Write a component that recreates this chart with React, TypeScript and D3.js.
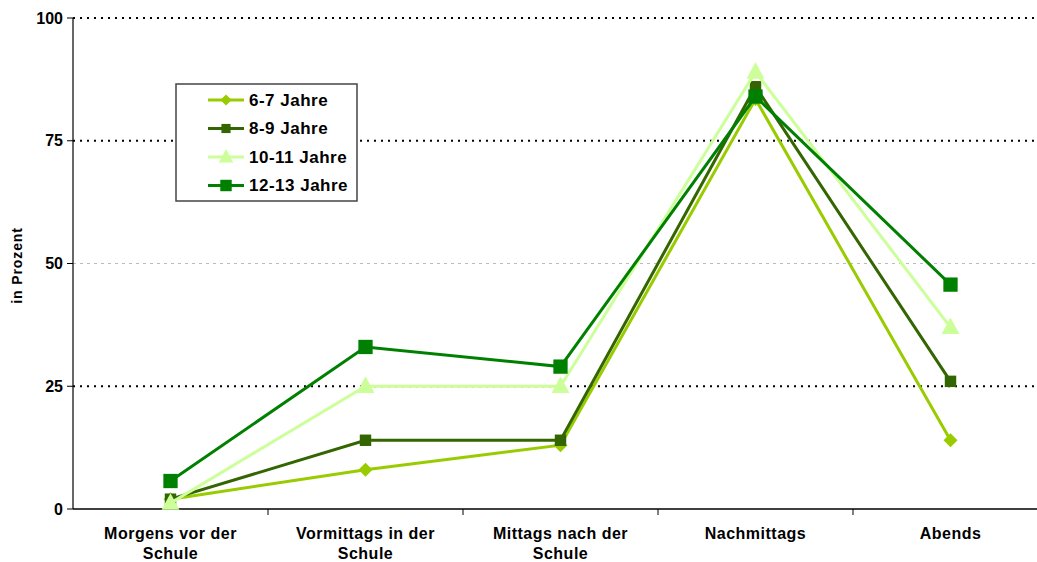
import React from "react";
import * as d3 from "d3";

const categories = [["Morgens vor der", "Schule"], ["Vormittags in der", "Schule"], ["Mittags nach der", "Schule"], ["Nachmittags"], ["Abends"]];
const seriesNames = ["6-7 Jahre", "8-9 Jahre", "10-11 Jahre", "12-13 Jahre"];
const s67 = [2, 8, 13, 83.5, 14];
const s89 = [2, 14, 14, 86, 26];
const s1011 = [1.2, 25, 25, 89, 37];
const s1213 = [5.7, 33, 29, 84, 45.7];
const yTicks = [0, 25, 50, 75, 100];

const colors = ["#99cc00", "#336600", "#ccff99", "#008000"];
const markers = ["diamond", "square", "triangle", "square"];
const sizes = [7, 8, 9, 10];
const seriesData = [s67, s89, s1011, s1213];

function Marker({ type, x, y, s, color }: any) {
  if (type === "diamond") {
    return <path d={`M${x},${y - s}L${x + s},${y}L${x},${y + s}L${x - s},${y}Z`} fill={color} />;
  }
  if (type === "triangle") {
    return <path d={`M${x},${y - s * 1.1}L${x + s},${y + s * 0.75}L${x - s},${y + s * 0.75}Z`} fill={color} />;
  }
  return <rect x={x - s / 1.4} y={y - s / 1.4} width={(s / 1.4) * 2} height={(s / 1.4) * 2} fill={color} />;
}

export default function App() {
  const W = 1037, H = 562;
  const left = 73, right = 1048, top = 18, bottom = 509;
  const x = d3.scaleBand().domain(categories.map((_, i) => String(i))).range([left, right]);
  const y = d3.scaleLinear().domain([0, 100]).range([bottom, top]);
  const cx = (i: number) => (x(String(i)) as number) + x.bandwidth() / 2;
  const line = d3.line<number>().x((_, i) => cx(i)).y((d) => y(d));
  const font = "Arial, 'Liberation Sans', sans-serif";
  return (
    <svg width={W} height={H} style={{ position: "absolute", left: 0, top: 0, background: "#fff" }} fontFamily={font}>
      {yTicks.filter((t) => t > 0).map((t) => (
        <line key={t} x1={left} x2={right} y1={y(t)} y2={y(t)}
          stroke={t === 50 ? "#bbbbbb" : "#000"} strokeWidth={t === 50 ? 1 : 2}
          strokeDasharray={t === 50 ? "3,4" : "2,5"} />
      ))}
      <line x1={left} x2={left} y1={top} y2={bottom} stroke="#000" strokeWidth={1.2} />
      <line x1={left} x2={right} y1={bottom} y2={bottom} stroke="#000" strokeWidth={1.5} />
      {yTicks.map((t) => (
        <g key={t}>
          <line x1={left - 6} x2={left} y1={y(t)} y2={y(t)} stroke="#000" strokeWidth={1} />
          <text x={left - 10} y={y(t)} dy="0.35em" textAnchor="end" fontSize={16} fontWeight="bold">{t}</text>
        </g>
      ))}
      {categories.map((_, i) => i > 0 && (
        <line key={i} x1={x(String(i))} x2={x(String(i))} y1={bottom} y2={bottom + 6} stroke="#000" strokeWidth={1} />
      ))}
      {categories.map((c, i) => (
        <text key={i} x={cx(i)} y={539} textAnchor="middle" fontSize={16} fontWeight="bold" letterSpacing={0.5}>
          {c.map((l, j) => <tspan key={j} x={cx(i)} dy={j === 0 ? 0 : 20}>{l}</tspan>)}
        </text>
      ))}
      <text transform={`translate(22,${y(50) + 2}) rotate(-90)`} textAnchor="middle" fontSize={14} fontWeight="bold" letterSpacing={0.9}>in Prozent</text>
      {seriesData.map((d, si) => (
        <g key={si}>
          <path d={line(d) as string} fill="none" stroke={colors[si]} strokeWidth={3} />
          {d.map((v, i) => <Marker key={i} type={markers[si]} x={cx(i)} y={y(v)} s={sizes[si]} color={colors[si]} />)}
        </g>
      ))}
      <rect x={176} y={84} width={181} height={117} fill="#fff" stroke="#444" strokeWidth={1.5} />
      {seriesNames.map((n, i) => {
        const ly = 100 + i * 28.5;
        return (
          <g key={n}>
            <line x1={208} x2={244} y1={ly} y2={ly} stroke={colors[i]} strokeWidth={3} />
            <Marker type={markers[i]} x={226} y={ly} s={sizes[i] * 0.8} color={colors[i]} />
            <text x={249} y={ly} dy="0.35em" fontSize={17} fontWeight="bold" letterSpacing={0.5}>{n}</text>
          </g>
        );
      })}
    </svg>
  );
}
